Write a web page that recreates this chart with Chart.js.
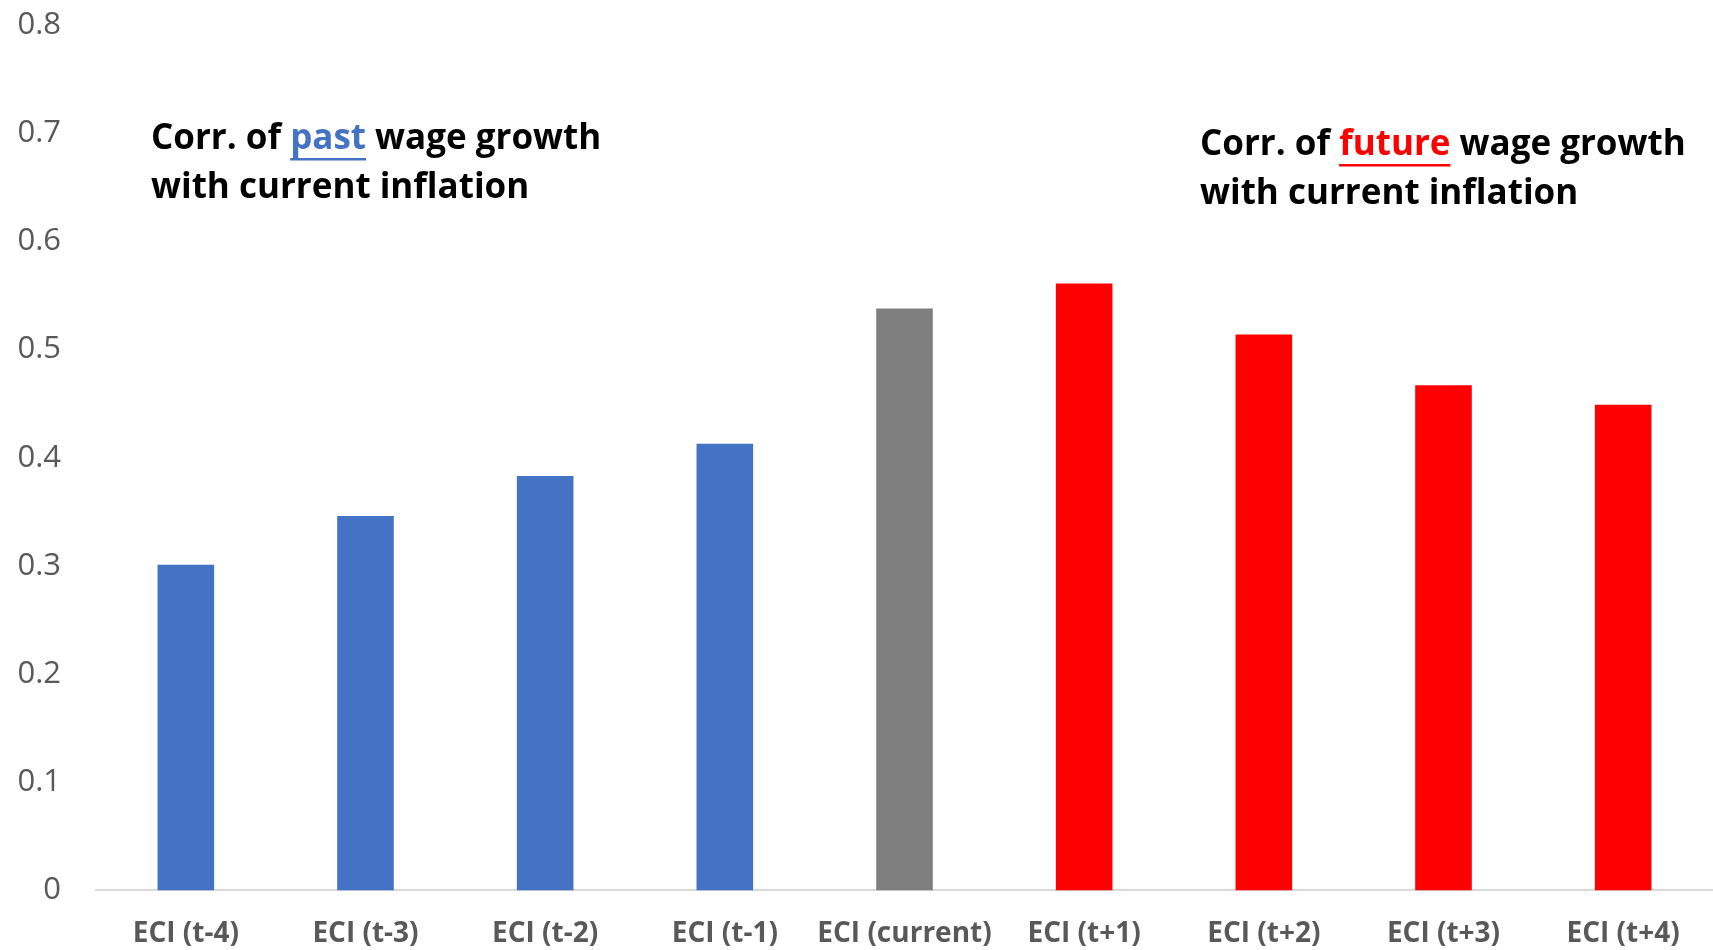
<!DOCTYPE html>
<html>
<head>
<meta charset="utf-8">
<script src="https://cdn.jsdelivr.net/npm/chart.js@4.4.1/dist/chart.umd.min.js"></script>
<style>
  html, body { margin: 0; padding: 0; background: #fff; }
  #wrap { width: 1713px; height: 950px; }
</style>
</head>
<body>
<div id="wrap"><canvas id="corrChart"></canvas></div>
<script>
// Chart data
const categories = ['ECI (t-4)', 'ECI (t-3)', 'ECI (t-2)', 'ECI (t-1)', 'ECI (current)',
                    'ECI (t+1)', 'ECI (t+2)', 'ECI (t+3)', 'ECI (t+4)'];
const correlations = [0.301, 0.346, 0.383, 0.413, 0.538, 0.561, 0.514, 0.467, 0.449];
const barColors = ['#4472C4', '#4472C4', '#4472C4', '#4472C4', '#7F7F7F',
                   '#FF0000', '#FF0000', '#FF0000', '#FF0000'];
const yTicks = [0, 0.1, 0.2, 0.3, 0.4, 0.5, 0.6, 0.7, 0.8];

// Two text boxes: [before, highlighted word, after] for the first line
const notes = [
  { parts: ['Corr. of ', 'past', ' wage growth'], line2: 'with current inflation', color: '#4472C4', x: 151, y: 139 },
  { parts: ['Corr. of ', 'future', ' wage growth'], line2: 'with current inflation', color: '#FF0000', x: 1200, y: 145 }
];

const FONT = '"Open Sans", "DejaVu Sans", sans-serif';

// Draws the annotation text boxes on top of the chart
const notesPlugin = {
  id: 'notes',
  afterDraw(chart) {
    const ctx = chart.ctx;
    ctx.save();
    ctx.font = 'bold 35px ' + FONT;
    ctx.textBaseline = 'middle';
    ctx.textAlign = 'left';
    notes.forEach(n => {
      let x = n.x;
      n.parts.forEach((p, i) => {
        const w = ctx.measureText(p).width;
        ctx.fillStyle = i === 1 ? n.color : '#000000';
        ctx.fillText(p, x, n.y);
        if (i === 1) {
          ctx.fillStyle = n.color;
          ctx.fillRect(x, n.y + 19, w, 2.5);
        }
        x += w;
      });
      ctx.fillStyle = '#000000';
      ctx.fillText(n.line2, n.x, n.y + 49);
    });
    ctx.restore();
  }
};

const ctx = document.getElementById('corrChart').getContext('2d');
new Chart(ctx, {
  type: 'bar',
  data: {
    labels: categories,
    datasets: [{
      data: correlations,
      backgroundColor: barColors,
      borderWidth: 0,
      barPercentage: 0.315,
      categoryPercentage: 1.0
    }]
  },
  options: {
    responsive: true,
    maintainAspectRatio: false,
    animation: false,
    layout: {
      padding: { top: 25, right: 0, bottom: -28, left: 0 }
    },
    plugins: {
      legend: { display: false },
      tooltip: { enabled: false }
    },
    scales: {
      x: {
        grid: {
          display: false,
          drawTicks: false
        },
        border: {
          display: true,
          color: '#D9D9D9',
          width: 2
        },
        ticks: {
          color: '#595959',
          padding: 27,
          maxRotation: 0,
          autoSkip: false,
          font: { family: FONT, size: 28, weight: 'bold' }
        }
      },
      y: {
        min: 0,
        max: 0.8,
        afterBuildTicks: function(scale) {
          scale.ticks = yTicks.map(v => ({ value: v }));
        },
        afterFit: function(scale) {
          scale.width = 96;
        },
        grid: {
          display: false,
          drawTicks: true,
          tickLength: 35
        },
        border: { display: false },
        ticks: {
          color: '#595959',
          padding: 0,
          font: { family: FONT, size: 31 },
          callback: function(value) {
            return value === 0 ? '0' : value.toFixed(1);
          }
        }
      }
    }
  },
  plugins: [notesPlugin]
});
</script>
</body>
</html>
